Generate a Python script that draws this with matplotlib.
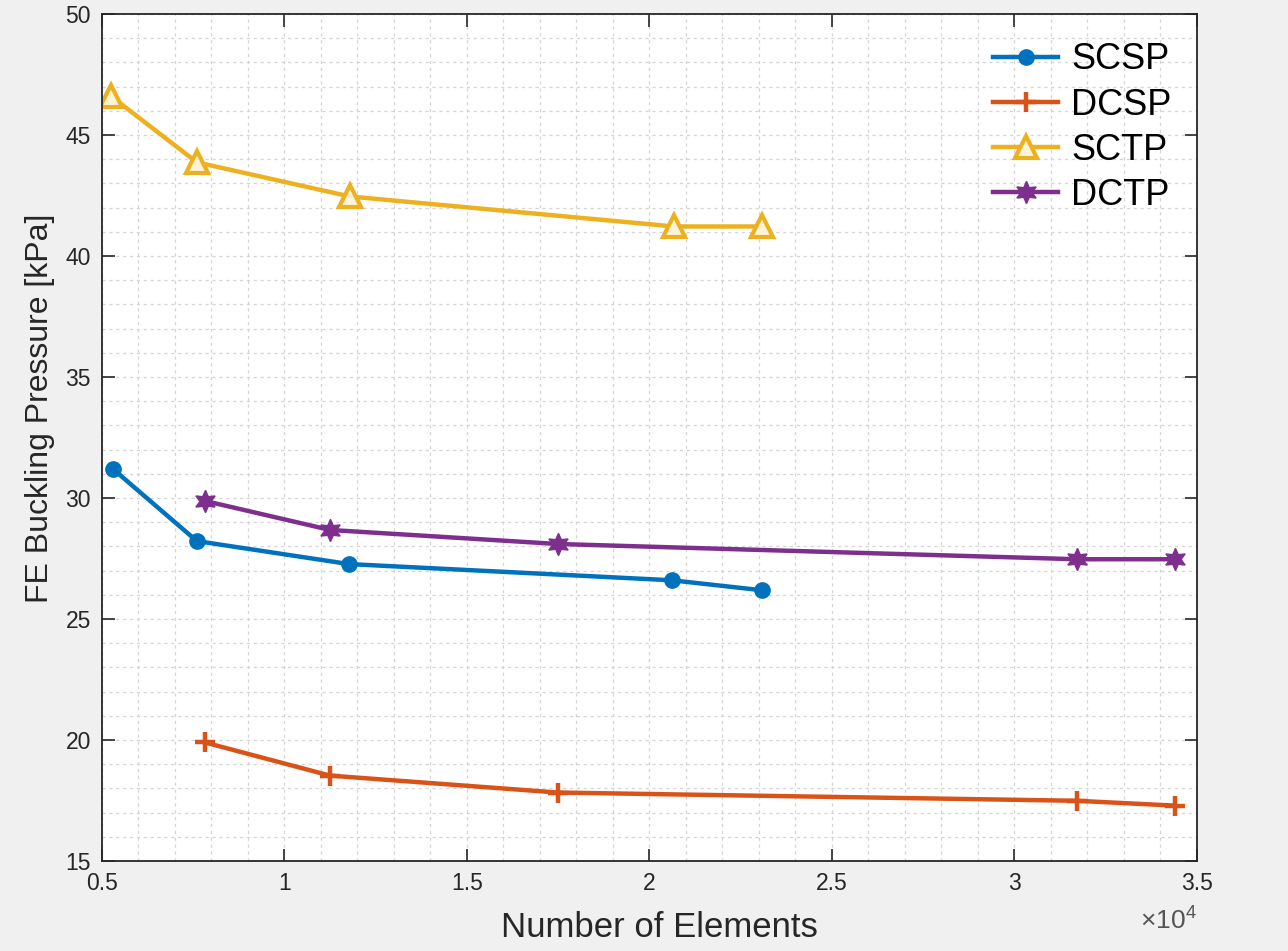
import matplotlib
matplotlib.use("Agg")
import matplotlib.pyplot as plt
from matplotlib.ticker import MultipleLocator, FuncFormatter

plt.rcParams['font.family'] = ['Liberation Sans', 'DejaVu Sans']
plt.rcParams['mathtext.fontset'] = 'custom'
plt.rcParams['mathtext.rm'] = 'Liberation Sans'

# number of elements for each series
scsp_n = [5300, 7600, 11770, 20620, 23080]
dcsp_n = [7820, 11250, 17490, 31710, 34400]
sctp_n = [5250, 7600, 11790, 20670, 23080]
dctp_n = [7820, 11250, 17490, 31710, 34400]

# FE buckling pressure [kPa]
scsp_p = [31.20, 28.22, 27.27, 26.60, 26.19]
dcsp_p = [19.90, 18.53, 17.83, 17.49, 17.29]
sctp_p = [46.60, 43.87, 42.46, 41.22, 41.22]
dctp_p = [29.88, 28.68, 28.10, 27.47, 27.47]

labels = ['SCSP', 'DCSP', 'SCTP', 'DCTP']
colors = ['#0072BD', '#D95319', '#EDB120', '#7E2F8E']
txt = '#262626'

fig = plt.figure(figsize=(12.88, 9.51), dpi=100, facecolor='#f0f0f0')
ax = fig.add_axes([0.0792, 0.0946, 0.8498, 0.8907])
ax.set_facecolor('white')

lw = 3.2
ax.plot(scsp_n, scsp_p, color=colors[0], lw=lw, marker='o', ms=11,
        label=labels[0])
ax.plot(dcsp_n, dcsp_p, color=colors[1], lw=lw, marker='+', ms=14, mew=3.2,
        label=labels[1])
ax.plot(sctp_n, sctp_p, color=colors[2], lw=lw, marker='^', ms=16, mew=3,
        mfc='#fdf3d8', label=labels[2])
ax.plot(dctp_n, dctp_p, color=colors[3], lw=lw, marker=(6, 1, 0), ms=16,
        label=labels[3])

ax.set_xlim(5000, 35000)
ax.set_ylim(15, 50)
ax.xaxis.set_major_locator(MultipleLocator(5000))
ax.xaxis.set_minor_locator(MultipleLocator(1000))
ax.yaxis.set_major_locator(MultipleLocator(5))
ax.yaxis.set_minor_locator(MultipleLocator(1))

# MATLAB style: 0.5, 1, 1.5 ... with a x10^4 exponent label
ax.xaxis.set_major_formatter(FuncFormatter(lambda v, p: '%g' % (v / 1e4)))
ax.text(1.0, -0.0697, '×10$^{4}$', transform=ax.transAxes,
        ha='right', va='center', fontsize=19, color='#555555')

ax.grid(which='both', color='#d4d4d4', linestyle=(0, (2.5, 3)), linewidth=0.9)
ax.set_axisbelow(True)
ax.tick_params(which='major', direction='in', length=9, width=1.2,
               top=True, right=True, labelsize=16.5, colors=txt, pad=8)
ax.tick_params(which='minor', length=0)
for s in ax.spines.values():
    s.set_color(txt)
    s.set_linewidth(1.3)

ax.set_xlabel('Number of Elements', fontsize=25, color=txt, va='center')
ax.xaxis.set_label_coords(0.5096, -0.078)
ax.set_ylabel('FE Buckling Pressure [kPa]', fontsize=23, color=txt,
              va='center')
ax.yaxis.set_label_coords(-0.0566, 0.534)

ax.legend(loc='upper right', frameon=False, fontsize=26, handlelength=1.8,
          borderaxespad=0.4, labelspacing=0.28, handletextpad=0.35,
          borderpad=0.6, bbox_to_anchor=(1.01, 1.009))

fig.savefig('out.png', dpi=100, facecolor=fig.get_facecolor())
